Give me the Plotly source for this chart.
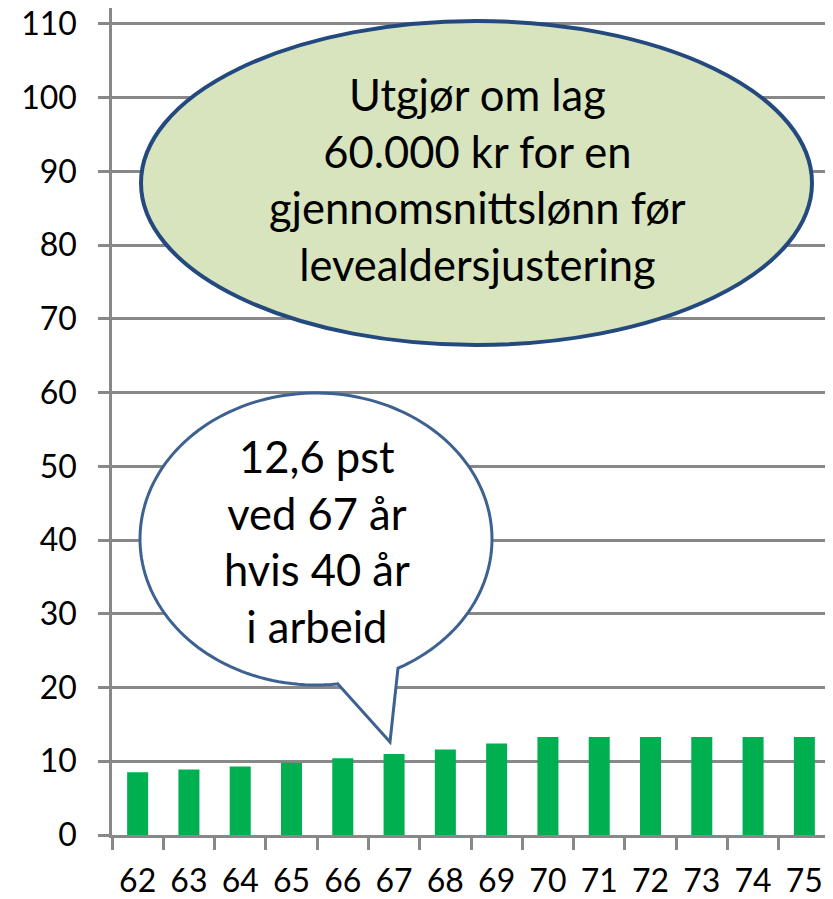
import numpy as np
import plotly.graph_objects as go

# Data
ages = ["62", "63", "64", "65", "66", "67", "68", "69", "70", "71", "72", "73", "74", "75"]
values = [8.5, 8.9, 9.3, 9.8, 10.4, 11.0, 11.6, 12.4, 13.3, 13.3, 13.3, 13.3, 13.3, 13.3]
y_ticks = [0, 10, 20, 30, 40, 50, 60, 70, 80, 90, 100, 110]
big_text = "Utgjør om lag<br>60.000 kr for en<br>gjennomsnittslønn før<br>levealdersjustering"
small_text = "12,6 pst<br>ved 67 år<br>hvis 40 år<br>i arbeid"

# page body has an 8px margin, so the figure is drawn 8px smaller and offset
OFF = 8
W, H = 833 - OFF, 899 - OFF
L, R, T, B = 112 - OFF, 3, 0, 64
PW, PH = W - L - R, H - T - B


def u(px):
    return (px - OFF - L) / PW


def v(py):
    return (H - B - (py - OFF)) / PH


FONT = "Lato, 'Liberation Sans', Arial, sans-serif"
GRID = "#888888"

fig = go.Figure()
fig.add_trace(go.Bar(x=ages, y=values, marker=dict(color="#00B050", line=dict(width=0))))

# big ellipse
fig.add_shape(type="circle", xref="paper", yref="paper",
              x0=u(141), x1=u(812), y0=v(345), y1=v(21),
              fillcolor="#D7E4BD", line=dict(color="#24497E", width=4), layer="above")

# speech bubble
cx, cy, rx, ry = 316, 539, 176, 146
a_start, a_end = np.deg2rad(62), np.deg2rad(83 - 360)
angs = np.linspace(a_start, a_end, 160)
pts = [(cx + rx * np.cos(a), cy + ry * np.sin(a)) for a in angs]
pts.append((337, 683))
pts.append((390, 742))
pts.append((398, 668))
path = "M " + " L ".join(f"{u(x):.5f},{v(y):.5f}" for x, y in pts) + " Z"
fig.add_shape(type="path", xref="paper", yref="paper", path=path,
              fillcolor="white", line=dict(color="#3D6190", width=3), layer="above")

fig.add_annotation(xref="paper", yref="paper", x=u(477), y=v(179), text=big_text,
                   showarrow=False, xanchor="center", yanchor="middle",
                   font=dict(family=FONT, size=43.5, color="black"))
fig.add_annotation(xref="paper", yref="paper", x=u(317), y=v(541), text=small_text,
                   showarrow=False, xanchor="center", yanchor="middle",
                   font=dict(family=FONT, size=43.5, color="black"))

fig.update_layout(
    width=W, height=H,
    margin=dict(l=L, r=R, t=T, b=B, autoexpand=False),
    paper_bgcolor="white", plot_bgcolor="white",
    bargap=0.59, showlegend=False,
    font=dict(family=FONT, size=32, color="black"),
)
fig.update_xaxes(type="category", showline=True, linecolor=GRID, linewidth=2.5,
                 ticks="outside", tickson="boundaries", ticklen=12, tickwidth=2.5, tickcolor=GRID,
                 showgrid=False, ticklabelstandoff=16, tickfont=dict(size=32), automargin=False,
                 ticklabeloverflow="allow")
fig.update_yaxes(range=[0, PH / 7.373], tickvals=y_ticks, showline=True, linecolor=GRID, linewidth=2.5,
                 ticks="outside", ticklen=11, tickwidth=2.5, tickcolor=GRID,
                 showgrid=True, gridcolor=GRID, gridwidth=2.5, zeroline=False,
                 ticklabelstandoff=15, tickfont=dict(size=32), automargin=False,
                 ticklabeloverflow="allow")

fig.write_html("out.html")
